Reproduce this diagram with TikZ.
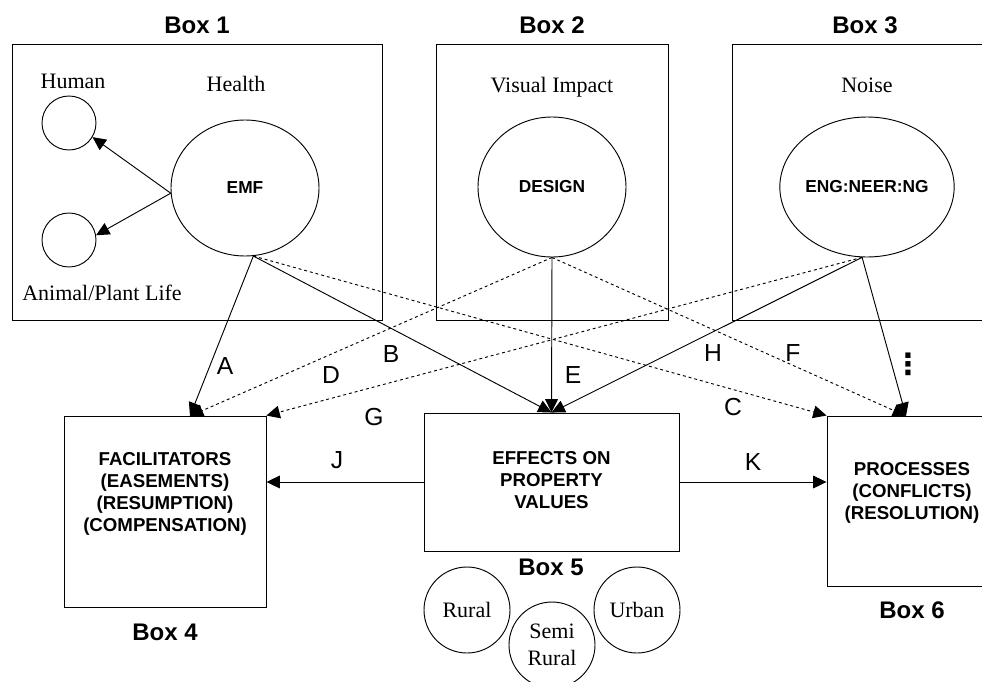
\documentclass[tikz,border=0pt]{standalone}
\usepackage{fontspec}
\setmainfont{Liberation Serif}
\setsansfont{Liberation Sans}
\newfontfamily\symfont{DejaVu Sans}
\usetikzlibrary{arrows.meta,shapes.geometric}
\begin{document}
\begin{tikzpicture}[x=0.75pt,y=-0.75pt,
  line width=0.7pt,
  box/.style={draw, rectangle, inner sep=0pt},
  oval/.style={draw, ellipse, inner sep=0pt, font=\sffamily\bfseries\fontsize{13}{15}\selectfont},
  smallc/.style={draw, circle, inner sep=0pt, minimum size=40.5pt},
  areac/.style={draw, circle, inner sep=0pt, minimum size=64.5pt, align=center, font=\fontsize{16.5}{20}\selectfont},
  serif/.style={font=\fontsize{16.5}{19}\selectfont, anchor=base, inner sep=0pt},
  boxlabel/.style={font=\sffamily\bfseries\fontsize{18}{20}\selectfont, anchor=base, inner sep=0pt},
  boxtext/.style={font=\sffamily\bfseries\fontsize{14}{16.5}\selectfont, align=center, inner sep=0pt},
  elabel/.style={font=\sffamily\fontsize{18.5}{20}\selectfont, inner sep=0pt},
  arr/.style={-{Triangle[length=10pt,width=9.5pt]}},
  dsh/.style={dash pattern=on 2.2pt off 2.2pt}
]
\clip (0,0) rectangle (982,682);
\fill[white] (0,0) rectangle (982,682);

% top boxes
\node[box, minimum width=277.5pt, minimum height=207pt] (b1) at (197,182) {};
\node[box, minimum width=174pt, minimum height=207pt] (b2) at (552,182) {};
\node[box, minimum width=201pt, minimum height=207pt] (b3) at (866,182) {};
\node[boxlabel] (l1) at (197,33) {Box 1};
\node[boxlabel] (l2) at (552,33) {Box 2};
\node[boxlabel] (l3) at (865,33) {Box 3};

% box 1 contents
\node[serif] (thuman) at (73,88) {Human};
\node[serif] (thealth) at (236,91) {Health};
\node[serif] (tanimal) at (102,300) {Animal/Plant Life};
\node[smallc] (hum) at (69,123) {};
\node[smallc] (ani) at (69,240) {};
\node[oval, minimum width=111pt, minimum height=102pt] (emf) at (245,188) {EMF};
\draw[arr] (emf.184) -- (hum.-31);
\draw[arr] (emf.184) -- (ani.10);

% box 2 contents
\node[serif] (tvis) at (552,92) {Visual Impact};
\node[oval, minimum width=111pt, minimum height=105pt] (des) at (552,187) {DESIGN};

% box 3 contents
\node[serif] (tnoise) at (867,92) {Noise};
\node[oval, minimum width=108pt, minimum height=105pt] (eng) at (867,187) {ENG:NEER:NG};

% lower boxes
\node[box, minimum width=151.5pt, minimum height=143.25pt] (b4) at (165,511.5) {};
\node[box, minimum width=191.25pt, minimum height=103.5pt] (b5) at (551.5,482) {};
\node[box, minimum width=129.75pt, minimum height=127.5pt] (b6) at (913.5,501) {};
\node[boxtext] (t4) at (165,494) {FACILITATORS\\(EASEMENTS)\\(RESUMPTION)\\(COMPENSATION)};
\node[boxtext] (t5) at (551.5,480) {EFFECTS ON\\PROPERTY\\VALUES};
\node[boxtext] (t6) at (912,493) {PROCESSES\\(CONFLICTS)\\(RESOLUTION)};
\node[boxlabel] (l4) at (165,640) {Box 4};
\node[boxlabel] (l5) at (551,575) {Box 5};
\node[boxlabel] (l6) at (912,618) {Box 6};

% area circles
\node[areac] (rural) at (467,610) {Rural};
\node[areac] (semi) at (552,645) {Semi\\Rural};
\node[areac] (urban) at (637,610) {Urban};

% target points
\coordinate (b4in) at (190,416);
\coordinate (b6in) at (906,416);

% connectors
\draw[arr] (emf.-83) -- (b4in);
\draw[arr] (emf.-83) -- (b5.north);
\draw[arr, dsh] (emf.-83) -- (b6.north west);
\draw[arr, dsh] (des.south) -- (b4in);
\draw[arr] (des.south) -- (b5.north);
\draw[arr, dsh] (des.south) -- (b6in);
\draw[arr, dsh] (eng.-94) -- (b4.north east);
\draw[arr] (eng.-94) -- (b5.north);
\draw[arr] (eng.-94) -- (b6in);
\draw[arr] (b5.west) -- (b5.west -| b4.east);
\draw[arr] (b5.east) -- (b5.east -| b6.west);

% connector labels
\node[elabel] (la) at (225,366) {A};
\node[elabel] (lb) at (391,354) {B};
\node[elabel] (lc) at (733,407) {C};
\node[elabel] (ld) at (331,375) {D};
\node[elabel] (le) at (573,375) {E};
\node[elabel] (lf) at (793,353) {F};
\node[elabel] (lg) at (374,417) {G};
\node[elabel] (lh) at (713,353) {H};
\node[elabel, font=\symfont\bfseries\fontsize{22}{24}\selectfont] (li) at (908,364) {⋮};
\node[elabel] (lj) at (337,460) {J};
\node[elabel] (lk) at (753,462) {K};
\end{tikzpicture}
\end{document}
